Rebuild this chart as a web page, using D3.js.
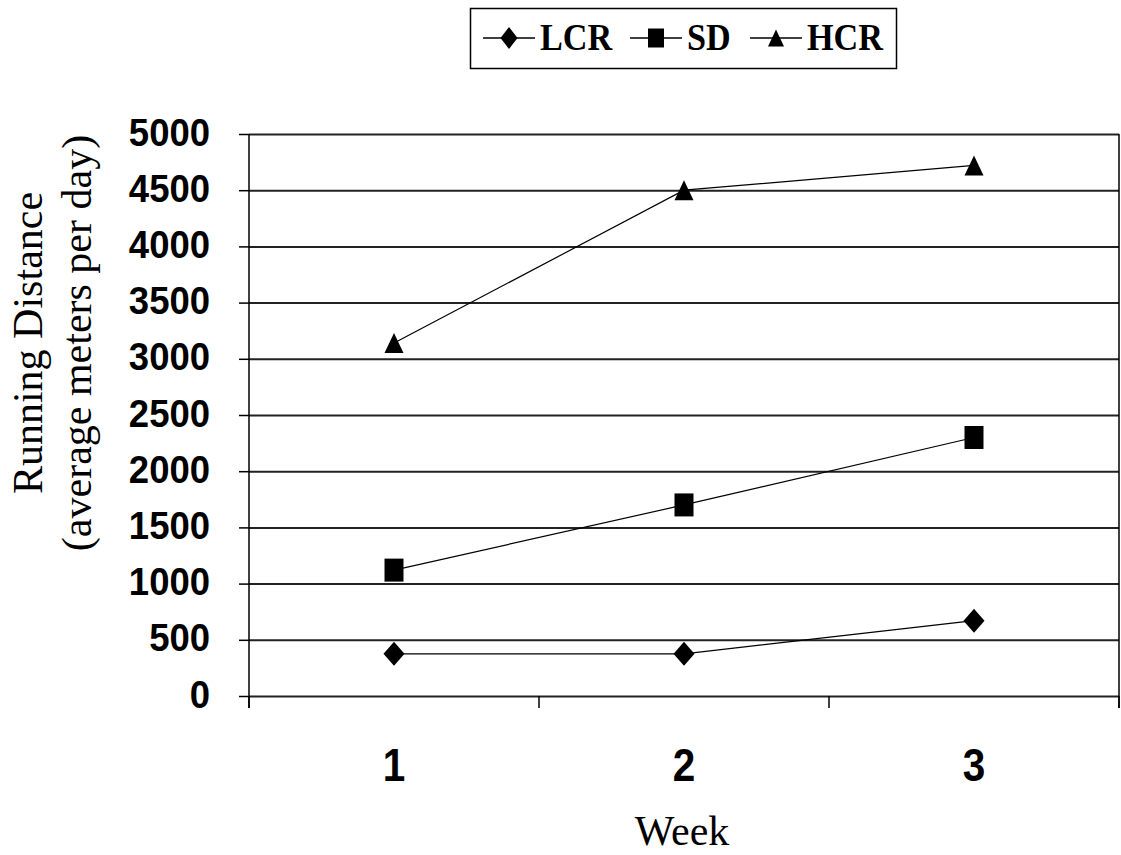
<!DOCTYPE html>
<html><head><meta charset="utf-8">
<script src="https://cdn.jsdelivr.net/npm/d3@7"></script>
<style>
html,body{margin:0;padding:0;background:#fff;}
svg{display:block;}
</style></head>
<body>
<script>
const weeks = ["1", "2", "3"];
const seriesNames = ["LCR", "SD", "HCR"];
const lcrValues = [375, 375, 670];
const sdValues = [1120, 1700, 2300];
const hcrValues = [3140, 4500, 4720];
const yTickValues = [0, 500, 1000, 1500, 2000, 2500, 3000, 3500, 4000, 4500, 5000];
const yTitleLines = ["Running Distance", "(average meters per day)"];
const xTitle = "Week";

const series = [
  {name: seriesNames[0], values: lcrValues, shape: "diamond"},
  {name: seriesNames[1], values: sdValues, shape: "square"},
  {name: seriesNames[2], values: hcrValues, shape: "triangle"}
];

const W = 1121, H = 855;
const L = 249, R = 1119, T = 134, B = 696;

const svg = d3.select("body").append("svg").attr("width", W).attr("height", H);

const x = d3.scaleBand().domain(weeks).range([L, R]);
const y = d3.scaleLinear().domain([0, 5000]).range([B, T]);

function markerPath(shape, w, h) {
  const a = w / 2, b = h / 2;
  if (shape === "diamond") return `M0,${-b}L${a},0L0,${b}L${-a},0Z`;
  if (shape === "square") return `M${-a},${-b}H${a}V${b}H${-a}Z`;
  return `M0,${-b}L${a},${b}L${-a},${b}Z`;
}
const markerSize = {diamond: [21, 24], square: [19, 23], triangle: [19, 20]};
const legendMarkerSize = {diamond: [17, 22], square: [16, 19], triangle: [16, 17]};

// gridlines
const grid = svg.append("g").attr("transform", `translate(${L},0)`)
  .call(d3.axisLeft(y).tickValues(yTickValues).tickSize(-(R - L)).tickFormat(""));
grid.select(".domain").remove();
grid.selectAll("line").attr("stroke", "#222").attr("stroke-width", 2);

// left axis with outward ticks and labels
const yAx = svg.append("g").attr("transform", `translate(${L},0)`)
  .call(d3.axisLeft(y).tickValues(yTickValues).tickSize(10).tickSizeOuter(0).tickFormat(d3.format("d")));
yAx.select(".domain").remove();
yAx.selectAll("line").attr("stroke", "#000").attr("stroke-width", 1.5);
yAx.selectAll("text")
  .attr("x", 0).attr("dy", null)
  .attr("transform", "translate(-39,11) scale(0.96,1.02)")
  .attr("text-anchor", "end")
  .attr("font-family", "'Liberation Sans', Arial, sans-serif")
  .attr("font-weight", "bold").attr("font-size", 38).attr("fill", "#000");

// vertical axis line
svg.append("line").attr("x1", L).attr("x2", L).attr("y1", T).attr("y2", B + 12)
  .attr("stroke", "#000").attr("stroke-width", 1.5);
// right border
svg.append("line").attr("x1", R).attr("x2", R).attr("y1", T).attr("y2", B + 12)
  .attr("stroke", "#000").attr("stroke-width", 1.5);

// x category boundary ticks
const bounds = d3.range(weeks.length + 1).map(i => x.range()[0] + i * x.step());
svg.append("g").selectAll("line").data(bounds).join("line")
  .attr("x1", d => d).attr("x2", d => d).attr("y1", B).attr("y2", B + 12)
  .attr("stroke", "#000").attr("stroke-width", 1.5);

// x labels
const xAx = svg.append("g").attr("transform", `translate(0,${B})`)
  .call(d3.axisBottom(x).tickSize(0));
xAx.select(".domain").remove();
xAx.selectAll("text")
  .attr("y", 0).attr("dy", null)
  .attr("transform", "translate(0,85) scale(0.88,1)")
  .attr("text-anchor", "middle")
  .attr("font-family", "'Liberation Sans', Arial, sans-serif")
  .attr("font-weight", "bold").attr("font-size", 46).attr("fill", "#000");

// series lines and markers
const line = d3.line().x((d, i) => x(weeks[i]) + x.bandwidth() / 2).y(d => y(d));
series.forEach(s => {
  svg.append("path").datum(s.values).attr("d", line)
    .attr("fill", "none").attr("stroke", "#000").attr("stroke-width", 1.2);
  svg.append("g").selectAll("path").data(s.values).join("path")
    .attr("transform", (d, i) => `translate(${x(weeks[i]) + x.bandwidth() / 2},${y(d)})`)
    .attr("d", markerPath(s.shape, markerSize[s.shape][0], markerSize[s.shape][1]))
    .attr("fill", "#000");
});

// axis titles
const yt = svg.append("g").attr("font-family", "'Liberation Serif', 'Times New Roman', serif")
  .attr("font-size", 42).attr("fill", "#000");
yt.selectAll("text").data(yTitleLines).join("text")
  .attr("transform", (d, i) => `translate(${i === 0 ? 42 : 91},343) rotate(-90)`)
  .attr("text-anchor", "middle").text(d => d);

svg.append("text").attr("x", 682).attr("y", 845).attr("text-anchor", "middle")
  .attr("font-family", "'Liberation Serif', 'Times New Roman', serif")
  .attr("font-size", 42).attr("fill", "#000").text(xTitle);

// legend
const lg = svg.append("g");
lg.append("rect").attr("x", 470.5).attr("y", 8.5).attr("width", 426).attr("height", 60)
  .attr("fill", "#fff").attr("stroke", "#000").attr("stroke-width", 1.5);
const legendX = [483, 630, 750];
const items = lg.selectAll("g.item").data(series).join("g").attr("class", "item")
  .attr("transform", (d, i) => `translate(${legendX[i]},38)`);
items.append("line").attr("x1", 0).attr("x2", 52).attr("y1", 0).attr("y2", 0)
  .attr("stroke", "#000").attr("stroke-width", 1.5);
items.append("path").attr("transform", "translate(26,0)")
  .attr("d", d => markerPath(d.shape, legendMarkerSize[d.shape][0], legendMarkerSize[d.shape][1]))
  .attr("fill", "#000");
items.append("text")
  .attr("transform", "translate(57,12) scale(0.9,1.02)")
  .attr("font-family", "'Liberation Serif', 'Times New Roman', serif")
  .attr("font-weight", "bold").attr("font-size", 38).attr("fill", "#000")
  .text(d => d.name);
</script>
</body></html>
